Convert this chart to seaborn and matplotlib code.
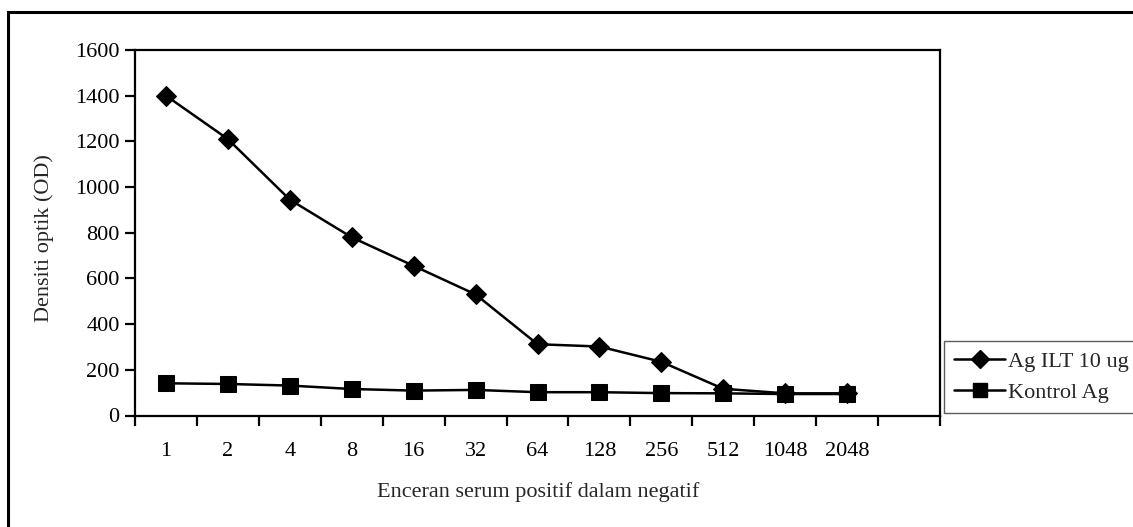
import numpy as np
import pandas as pd
import matplotlib
matplotlib.use("Agg")
import matplotlib.pyplot as plt
from matplotlib.patches import Rectangle
from matplotlib.lines import Line2D
import seaborn as sns

categories = ["1", "2", "4", "8", "16", "32", "64", "128", "256", "512", "1048", "2048"]
ag_ilt = [1400, 1210, 945, 780, 655, 530, 312, 302, 235, 117, 97, 97]
kontrol = [141, 138, 131, 116, 109, 112, 102, 102, 98, 97, 94, 94]
series_names = ["Ag ILT 10 ug", "Kontrol Ag"]
yticks = [0, 200, 400, 600, 800, 1000, 1200, 1400, 1600]

sns.set_theme(style="white")
plt.rcParams["font.family"] = ["Liberation Serif", "DejaVu Serif"]
FS = 16

pos = np.arange(len(categories))
df = pd.DataFrame({
    "pos": np.concatenate([pos, pos]),
    "val": ag_ilt + kontrol,
    "series": [series_names[0]] * len(pos) + [series_names[1]] * len(pos),
})

fig = plt.figure(figsize=(11.33, 5.27), dpi=100)
ax = fig.add_axes([135 / 1133, 1 - 415.5 / 527, (940 - 135) / 1133, (415.5 - 50) / 527])

sns.lineplot(data=df[df.series == series_names[0]], x="pos", y="val", ax=ax,
             color="black", lw=1.8, marker="D", markersize=10, markeredgecolor="black",
             markerfacecolor="black", sort=False, legend=False)
sns.lineplot(data=df[df.series == series_names[1]], x="pos", y="val", ax=ax,
             color="black", lw=1.8, marker="s", markersize=11.5, markeredgecolor="black",
             markerfacecolor="black", sort=False, legend=False)

ax.set_xlim(-0.5, len(categories) + 0.5)
ax.set_ylim(0, 1600)
ax.set_yticks(yticks)
ax.set_yticklabels([str(v) for v in yticks], fontsize=FS)
ax.set_xticks(pos)
ax.set_xticklabels(categories, fontsize=FS)
ax.set_xticks(np.arange(-0.5, len(categories) + 1, 1.0), minor=True)
ax.tick_params(axis="x", which="major", length=0, pad=19, colors="black")
ax.tick_params(axis="x", which="minor", length=7, width=1.6, direction="out", bottom=True, color="black")
ax.tick_params(axis="y", which="major", length=7, width=1.6, direction="out", left=True, colors="black", pad=4)
for s in ax.spines.values():
    s.set_visible(True)
    s.set_color("black")
    s.set_linewidth(1.6)

ax.set_xlabel("")
ax.set_ylabel("")
fig.text(538 / 1133, 1 - 492 / 527, "Enceran serum positif dalam negatif",
         ha="center", va="center", fontsize=FS)
fig.text(44 / 1133, 1 - 238 / 527, "Densiti optik (OD)", rotation=90,
         ha="center", va="center", fontsize=FS)

handles = [
    Line2D([], [], color="black", lw=1.8, marker="D", markersize=9, markerfacecolor="black"),
    Line2D([], [], color="black", lw=1.8, marker="s", markersize=10, markerfacecolor="black"),
]
leg = fig.legend(handles, series_names, loc="upper left",
                 bbox_to_anchor=(944 / 1133, 1 - 341 / 527), fontsize=FS,
                 frameon=True, fancybox=False, handlelength=2.3, handletextpad=0.15,
                 borderpad=0.45, labelspacing=0.5, borderaxespad=0)
leg.get_frame().set_edgecolor("#333333")
leg.get_frame().set_linewidth(1.0)

fig.patches.append(Rectangle((8 / 1133, -0.2), 1.2, 1 - 12 / 527 + 0.2,
                             transform=fig.transFigure, fill=False,
                             edgecolor="black", lw=2.2, zorder=0))

fig.savefig("out.png", dpi=100, facecolor="white")
